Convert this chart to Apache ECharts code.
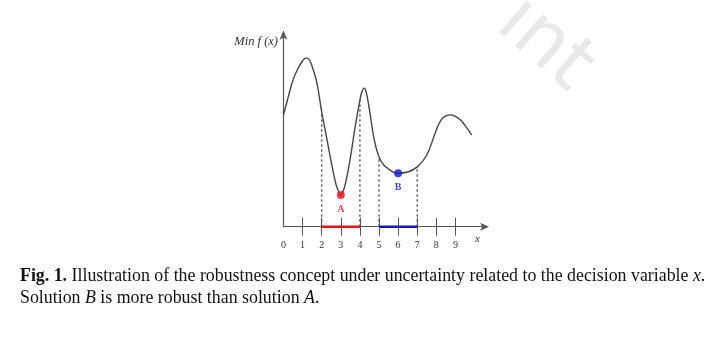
<!DOCTYPE html>
<html>
<head>
<meta charset="utf-8">
<script src="https://cdn.jsdelivr.net/npm/echarts@6/dist/echarts.min.js"></script>
<style>
html,body{margin:0;padding:0;background:#fff;}
#c{width:720px;height:340px;}
</style>
</head>
<body>
<div id="c"></div>
<script>
// ---- data ----
const curveX = [0, 0.25, 0.5, 0.75, 1.0, 1.12, 1.25, 1.38, 1.5, 1.75, 2.0, 2.25, 2.5, 2.75, 2.9, 3.0, 3.1, 3.25, 3.5, 3.75, 4.0, 4.1, 4.23, 4.35, 4.5, 4.75, 5.0, 5.25, 5.5, 5.75, 6.0, 6.5, 7.0, 7.5, 8.0, 8.25, 8.5, 8.75, 9.0, 9.25, 9.5, 9.85];
const curveY = [5.85, 6.79, 7.68, 8.26, 8.68, 8.8, 8.82, 8.68, 8.38, 7.52, 6.0, 4.7, 3.38, 2.2, 1.8, 1.66, 1.8, 2.28, 3.6, 5.22, 6.62, 7.05, 7.25, 6.95, 6.11, 4.54, 3.65, 3.23, 3.02, 2.86, 2.80, 2.86, 3.13, 3.75, 5.06, 5.59, 5.80, 5.85, 5.77, 5.59, 5.30, 4.80];
const guideX = [2, 4, 5, 7];
const guideTop = [6.0, 6.62, 3.65, 3.13];
const solutionNames = ['A', 'B'];
const solutionX = [3, 6];
const solutionY = [1.66, 2.80];
const intervalA = [2, 4];
const intervalB = [5, 7];
const tickValues = [1, 2, 3, 4, 5, 6, 7, 8, 9];
const tickLabels = [0, 1, 2, 3, 4, 5, 6, 7, 8, 9];

const RED = '#e3141c';
const BLUE = '#1414c0';
const INK = '#444';
const SERIF = '"Liberation Serif", "DejaVu Serif", serif';

const chart = echarts.init(document.getElementById('c'), null, {renderer: 'canvas'});

const guideSeries = guideX.map((x, i) => ({
  type: 'line',
  data: [[x, 0], [x, guideTop[i]]],
  symbol: 'none',
  silent: true,
  clip: false,
  lineStyle: {color: '#555', width: 1.3, type: [2.5, 2.5]},
  z: 2
}));

chart.setOption({
  animation: false,
  backgroundColor: '#fff',
  grid: {left: 283.5, top: 31.7, width: 202.5, height: 195, containLabel: false},
  xAxis: [{
    type: 'value', min: 0, max: 10.6,
    axisLine: {show: true, onZero: true, symbol: ['none', 'arrow'], symbolSize: [6, 9], symbolOffset: [0, 3],
      lineStyle: {color: '#555', width: 1.2}},
    axisTick: {show: true, inside: true, length: 9, customValues: tickValues, lineStyle: {color: '#555', width: 1}},
    axisLabel: {show: true, customValues: tickLabels, margin: 14, fontFamily: SERIF, fontSize: 10, color: '#333'},
    splitLine: {show: false}
  }, {
    type: 'value', min: 0, max: 10.6, position: 'bottom',
    axisLine: {show: false},
    axisTick: {show: true, inside: false, length: 9, customValues: tickValues, lineStyle: {color: '#555', width: 1}},
    axisLabel: {show: false},
    splitLine: {show: false}
  }],
  yAxis: {
    type: 'value', min: 0, max: 10.2,
    axisLine: {show: true, symbol: ['none', 'arrow'], symbolSize: [6, 9], symbolOffset: [0, 1],
      lineStyle: {color: '#555', width: 1.2}},
    axisTick: {show: false},
    axisLabel: {show: false},
    splitLine: {show: false}
  },
  series: [
    {
      type: 'line',
      data: curveX.map((x, i) => [x, curveY[i]]),
      smooth: 0.4,
      symbol: 'none',
      clip: false,
      lineStyle: {color: INK, width: 1.4},
      z: 3
    },
    ...guideSeries,
    {
      type: 'line', data: intervalA.map(x => [x, 0]), symbol: 'none', clip: false,
      lineStyle: {color: RED, width: 2.5}, z: 4
    },
    {
      type: 'line', data: intervalB.map(x => [x, 0]), symbol: 'none', clip: false,
      lineStyle: {color: BLUE, width: 2.5}, z: 4
    },
    {
      type: 'scatter',
      data: solutionX.map((x, i) => ({
        value: [x, solutionY[i]],
        name: solutionNames[i],
        itemStyle: {color: i === 0 ? RED : BLUE},
        label: {color: i === 0 ? RED : BLUE}
      })),
      symbolSize: 8,
      clip: false,
      z: 5,
      label: {
        show: true, position: 'bottom', distance: 5,
        formatter: p => p.name,
        fontFamily: SERIF, fontWeight: 'bold', fontSize: 10
      }
    }
  ],
  graphic: [
    {
      type: 'text', left: 482, top: -16, rotation: -0.72, z: 0, silent: true,
      style: {text: 'int', font: '76px "DejaVu Sans", sans-serif', fill: '#e8e8e8'}
    },
    {
      type: 'text', right: 720 - 278, top: 35, silent: true,
      style: {text: 'Min f (x)', font: 'italic 12.5px "Liberation Serif", serif', fill: '#333', textAlign: 'right'}
    },
    {
      type: 'text', left: 475, top: 234, silent: true,
      style: {text: 'x', font: 'italic 11px "Liberation Serif", serif', fill: '#333'}
    },
    {
      type: 'text', left: 20, top: 265, silent: true,
      style: {
        text: '{b|Fig. 1.} Illustration of the robustness concept under uncertainty related to the decision variable {i|x}.\nSolution {i|B} is more robust than solution {i|A}.',
        font: '17.85px "Liberation Serif", serif', fill: '#111', lineHeight: 22,
        rich: {
          b: {fontWeight: 'bold', fontFamily: 'Liberation Serif', fontSize: 17.85, fill: '#111', lineHeight: 22},
          i: {fontStyle: 'italic', fontFamily: 'Liberation Serif', fontSize: 17.85, fill: '#111', lineHeight: 22}
        }
      }
    }
  ]
});
</script>
</body>
</html>
